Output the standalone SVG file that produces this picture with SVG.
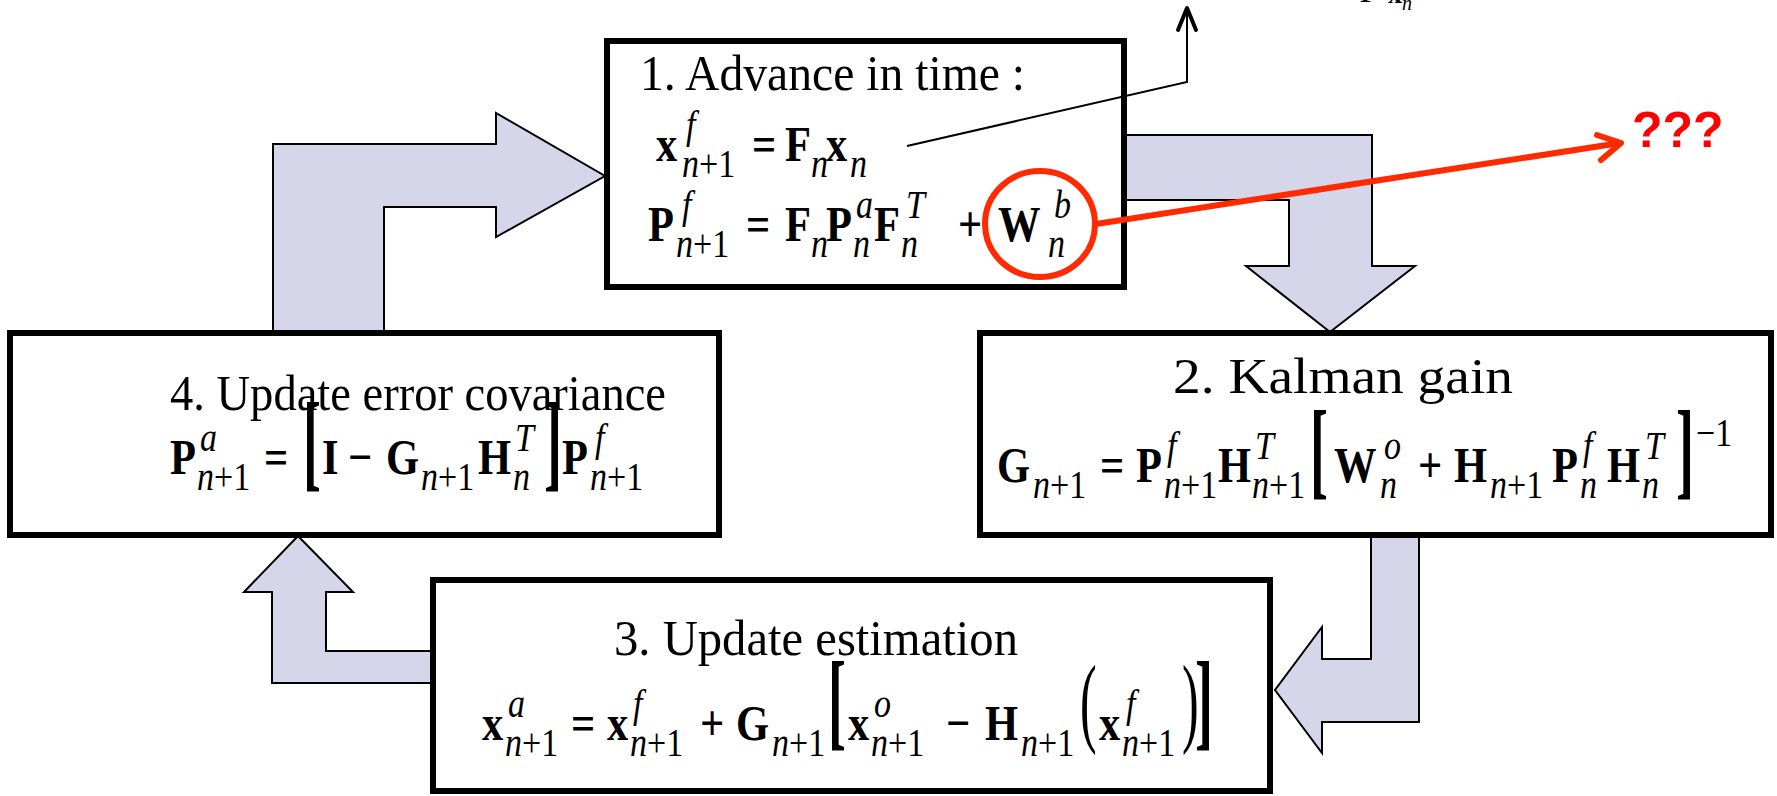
<svg xmlns="http://www.w3.org/2000/svg" width="1777" height="796" viewBox="0 0 1777 796">
<style>
.box{fill:#fff;stroke:#000;stroke-width:6}
.arw{fill:#d5d6ea;stroke:#000;stroke-width:2;stroke-linejoin:miter}
.t{font-family:"Liberation Serif","Times New Roman",serif;font-size:50px;fill:#000}
.m,.s{transform-box:fill-box;transform-origin:left center;transform:scaleX(0.85)}
.m{font-family:"Liberation Serif","Times New Roman",serif;font-weight:bold;font-size:50px;fill:#000}
.s{font-family:"Liberation Serif","Times New Roman",serif;font-style:italic;font-size:40px;fill:#000}
.u{font-style:normal}
.br{font-family:"Liberation Serif","Times New Roman",serif;font-weight:bold;font-size:108px;fill:#000}
.pa{font-family:"Liberation Serif","Times New Roman",serif;font-size:100px;fill:#000}
.red{stroke:#ff2a00;stroke-width:6;fill:none;stroke-linecap:round;stroke-linejoin:round}
</style>

<g id="connectors">
  <polygon class="arw" points="273,332 273,144 496,144 496,113 605,176 496,237 496,207 384,207 384,332"/>
  <polygon class="arw" points="1124,135 1372,135 1372,266 1415,266 1330,332 1246,266 1289,266 1289,200 1124,200"/>
  <polygon class="arw" points="1371,536 1419,536 1419,722 1322,722 1322,753 1275,690 1322,627 1322,659 1371,659"/>
  <polygon class="arw" points="298,536 353,592 326,592 326,651 433,651 433,683 272,683 272,592 244,592"/>
</g>

<g id="node1">
  <rect class="box" x="607" y="41" width="517" height="246"/>
  <text class="t" x="640" y="90" textLength="385" lengthAdjust="spacingAndGlyphs">1. Advance in time :</text>
  <text class="m" x="656" y="161">x</text>
  <text class="s" x="686" y="138">f</text>
  <text class="s" x="682" y="177">n<tspan class="u">+1</tspan></text>
  <text class="m" x="752" y="161">=</text>
  <text class="m" x="785" y="161">F</text>
  <text class="s" x="811" y="177">n</text>
  <text class="m" x="826" y="161">x</text>
  <text class="s" x="850" y="177">n</text>
  <text class="m" x="648" y="241">P</text>
  <text class="s" x="682" y="218">f</text>
  <text class="s" x="676" y="257">n<tspan class="u">+1</tspan></text>
  <text class="m" x="746" y="241">=</text>
  <text class="m" x="785" y="241">F</text>
  <text class="s" x="811" y="257">n</text>
  <text class="m" x="826" y="241">P</text>
  <text class="s" x="856" y="218">a</text>
  <text class="s" x="853" y="257">n</text>
  <text class="m" x="874" y="241">F</text>
  <text class="s" x="906" y="218">T</text>
  <text class="s" x="901" y="257">n</text>
  <text class="m" x="958" y="241">+</text>
  <text class="m" x="998" y="241">W</text>
  <text class="s" x="1054" y="218">b</text>
  <text class="s" x="1048" y="257">n</text>
</g>

<g id="node2">
  <rect class="box" x="980" y="333" width="791" height="202"/>
  <text class="t" x="1173" y="393" textLength="340" lengthAdjust="spacingAndGlyphs">2. Kalman gain</text>
  <text class="m" x="997" y="482">G</text>
  <text class="s" x="1033" y="498">n<tspan class="u">+1</tspan></text>
  <text class="m" x="1100" y="482">=</text>
  <text class="m" x="1136" y="482">P</text>
  <text class="s" x="1167" y="459">f</text>
  <text class="s" x="1164" y="498">n<tspan class="u">+1</tspan></text>
  <text class="m" x="1218" y="482">H</text>
  <text class="s" x="1255" y="459">T</text>
  <text class="s" x="1252" y="498">n<tspan class="u">+1</tspan></text>
  <text class="br" transform="translate(1310,485) scale(0.5,1)">[</text>
  <text class="m" x="1334" y="482">W</text>
  <text class="s" x="1384" y="459">o</text>
  <text class="s" x="1380" y="498">n</text>
  <text class="m" x="1418" y="482">+</text>
  <text class="m" x="1454" y="482">H</text>
  <text class="s" x="1490" y="498">n<tspan class="u">+1</tspan></text>
  <text class="m" x="1552" y="482">P</text>
  <text class="s" x="1583" y="459">f</text>
  <text class="s" x="1580" y="498">n</text>
  <text class="m" x="1607" y="482">H</text>
  <text class="s" x="1645" y="459">T</text>
  <text class="s" x="1642" y="498">n</text>
  <text class="br" transform="translate(1676,485) scale(0.5,1)">]</text>
  <text class="s" x="1696" y="446"><tspan class="u">−1</tspan></text>
</g>

<g id="node4">
  <rect class="box" x="10" y="333" width="709" height="202"/>
  <text class="t" x="170" y="410" textLength="496" lengthAdjust="spacingAndGlyphs">4. Update error covariance</text>
  <text class="m" x="170" y="474">P</text>
  <text class="s" x="200" y="451">a</text>
  <text class="s" x="197" y="490">n<tspan class="u">+1</tspan></text>
  <text class="m" x="264" y="474">=</text>
  <text class="br" transform="translate(303,477) scale(0.5,1)">[</text>
  <text class="m" x="322" y="474">I</text>
  <text class="m" x="348" y="474">−</text>
  <text class="m" x="386" y="474">G</text>
  <text class="s" x="421" y="490">n<tspan class="u">+1</tspan></text>
  <text class="m" x="478" y="474">H</text>
  <text class="s" x="515" y="451">T</text>
  <text class="s" x="513" y="490">n</text>
  <text class="br" transform="translate(544,477) scale(0.5,1)">]</text>
  <text class="m" x="562" y="474">P</text>
  <text class="s" x="595" y="451">f</text>
  <text class="s" x="590" y="490">n<tspan class="u">+1</tspan></text>
</g>

<g id="node3">
  <rect class="box" x="433" y="580" width="837" height="211"/>
  <text class="t" x="614" y="655" textLength="404" lengthAdjust="spacingAndGlyphs">3. Update estimation</text>
  <text class="m" x="482" y="740">x</text>
  <text class="s" x="508" y="717">a</text>
  <text class="s" x="505" y="756">n<tspan class="u">+1</tspan></text>
  <text class="m" x="571" y="740">=</text>
  <text class="m" x="607" y="740">x</text>
  <text class="s" x="633" y="717">f</text>
  <text class="s" x="630" y="756">n<tspan class="u">+1</tspan></text>
  <text class="m" x="700" y="740">+</text>
  <text class="m" x="736" y="740">G</text>
  <text class="s" x="772" y="756">n<tspan class="u">+1</tspan></text>
  <text class="br" transform="translate(828,736) scale(0.5,1)">[</text>
  <text class="m" x="848" y="740">x</text>
  <text class="s" x="874" y="717">o</text>
  <text class="s" x="871" y="756">n<tspan class="u">+1</tspan></text>
  <text class="m" x="946" y="740">−</text>
  <text class="m" x="985" y="740">H</text>
  <text class="s" x="1021" y="756">n<tspan class="u">+1</tspan></text>
  <text class="pa" transform="translate(1080,734) scale(0.5,1)">(</text>
  <text class="m" x="1099" y="740">x</text>
  <text class="s" x="1126" y="717">f</text>
  <text class="s" x="1122" y="756">n<tspan class="u">+1</tspan></text>
  <text class="pa" transform="translate(1182,734) scale(0.5,1)">)</text>
  <text class="br" transform="translate(1195,736) scale(0.5,1)">]</text>
</g>

<g id="annotations">
  <polyline points="907,146 1187,82 1187,8" fill="none" stroke="#000" stroke-width="2"/>
  <polyline points="1178,30 1187,8 1196,30" fill="none" stroke="#000" stroke-width="4" stroke-linecap="round" stroke-linejoin="round"/>
  <text x="1360" y="2" style="font-family:'Liberation Serif',serif;font-weight:bold;font-size:28px">F</text>
  <text x="1388" y="3" style="font-family:'Liberation Serif',serif;font-weight:bold;font-size:28px">x</text>
  <text x="1402" y="10" style="font-family:'Liberation Serif',serif;font-style:italic;font-size:20px">n</text>
  <ellipse class="red" cx="1040" cy="224" rx="55" ry="53" stroke-width="7"/>
  <line class="red" x1="1096" y1="224" x2="1620" y2="143"/>
  <polyline class="red" points="1597,135 1621,143 1601,160"/>
  <text x="1632" y="147" style="font-family:'Liberation Sans',Arial,sans-serif;font-weight:bold;font-size:50px;fill:#ff0000">???</text>
</g>
</svg>
